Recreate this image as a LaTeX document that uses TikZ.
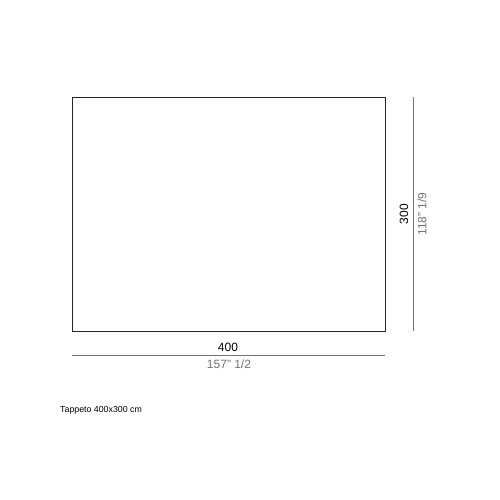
\documentclass[tikz,border=0pt]{standalone}
\usepackage{fontspec}
\setmainfont{Liberation Sans}
\begin{document}
\begin{tikzpicture}[x=1pt, y=-1pt]
\tikzstyle{dim}=[draw=black!55, line width=0.7pt]
\tikzstyle{lab}=[inner sep=0pt, font=\fontsize{12}{14}\selectfont]
\tikzstyle{sub}=[lab, text=black!55]
\useasboundingbox (0,0) rectangle (500,500);
\coordinate (tl) at ( 72,  97) ;
\coordinate (br) at (385, 331) ;
\coordinate (hl) at ( 72, 355) ;
\coordinate (hr) at (385, 355) ;
\coordinate (vt) at (413,  97) ;
\coordinate (vb) at (413, 331) ;
\node[lab](w)      at (228, 347) {400} ;
\node[sub](win)    at (229, 364) {157'' 1/2} ;
\node[lab, rotate=90](h)   at (404, 214) {300} ;
\node[sub, rotate=90](hin) at (422, 214) {118'' 1/9} ;
\node[inner sep=0pt, anchor=west, font=\fontsize{8.8}{10}\selectfont](cap) at (60, 410) {Tappeto 400x300 cm} ;

\draw[line width=0.9pt, black!85] (tl) rectangle (br) ;
\draw[dim] (hl) -- (hr) ;
\draw[dim] (vt) -- (vb) ;
\end{tikzpicture}
\end{document}
